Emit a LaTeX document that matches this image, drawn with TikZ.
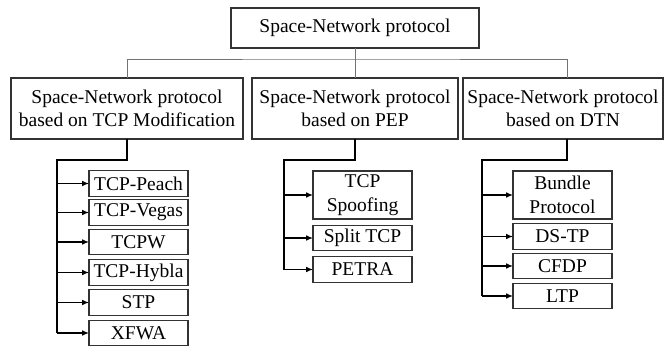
\documentclass[tikz,border=0pt]{standalone}
\usepackage{fontspec}
\setmainfont{Liberation Serif}
\usetikzlibrary{arrows.meta}

\begin{document}
\begin{tikzpicture}[x=0.5pt,y=-0.5pt]
        \tikzstyle{box} = [draw=black!80, line width=0.6pt, inner sep=0pt, outer sep=0pt, align=center, font=\fontsize{9.75}{11.75}\selectfont]
        \tikzstyle{leaf} = [box, minimum width=49.5pt, minimum height=12.75pt]
        \tikzstyle{tall} = [leaf, minimum height=24pt]
        \tikzstyle{e} = [draw=black!55, line width=0.5pt]
        \tikzstyle{br} = [draw=black, line width=0.6pt]
        \tikzstyle{arr} = [br, -{Latex[length=3.4pt,width=2.8pt]}]
        \useasboundingbox (0,0) rectangle (664,348);

        % top levels
        \node[box, minimum width=124pt, minimum height=20pt](root) at (355,28){Space-Network protocol};
        \node[box, minimum width=116pt, minimum height=30.5pt](tcp) at (127,108.5){Space-Network protocol\\based on TCP Modification};
        \node[box, minimum width=103pt, minimum height=30.5pt](pep) at (355,108.5){Space-Network protocol\\based on PEP};
        \node[box, minimum width=100pt, minimum height=30.5pt](dtn) at (563,108.5){Space-Network protocol\\based on DTN};

        % TCP modification
        \node[leaf](peach) at (138.5,183.5){TCP-Peach};
        \node[leaf](vegas) at (138.5,212.5){TCP-Vegas};
        \node[leaf](tcpw) at (138.5,242){TCPW};
        \node[leaf](hybla) at (138.5,272.5){TCP-Hybla};
        \node[leaf](stp) at (138.5,302.5){STP};
        \node[leaf](xfwa) at (138.5,333){XFWA};

        % PEP
        \node[tall](spoof) at (362.5,195){TCP\\Spoofing};
        \node[leaf](split) at (362.5,238){Split TCP};
        \node[leaf](petra) at (362.5,269.5){PETRA};

        % DTN
        \node[tall](bundle) at (562.5,195){Bundle\\Protocol};
        \node[leaf](dstp) at (562.5,236.5){DS-TP};
        \node[leaf](cfdp) at (562.5,266){CFDP};
        \node[leaf](ltp) at (562.5,296){LTP};

        \coordinate (bus) at (355,59);
        \draw[e](root.south) -- (bus);
        \draw[e](tcp.north) |- (bus) -| ([xshift=2pt]dtn.north);
        \draw[e](bus) -- (pep.north);

        \coordinate (tcpbus) at (57,160);
        \coordinate (pepbus) at (284,160);
        \coordinate (dtnbus) at (482,160);
        \draw[br](tcp.south) |- (tcpbus) -- (tcpbus |- xfwa.west);
        \draw[br](pep.south) |- (pepbus) -- (pepbus |- petra.west);
        \draw[br]([xshift=2pt]dtn.south) |- (dtnbus) -- (dtnbus |- ltp.west);
        \foreach \n in {peach,vegas,tcpw,hybla,stp,xfwa}
            \draw[arr](tcpbus |- \n.west) -- (\n.west);
        \foreach \n in {spoof,split,petra}
            \draw[arr](pepbus |- \n.west) -- (\n.west);
        \foreach \n in {bundle,dstp,cfdp,ltp}
            \draw[arr](dtnbus |- \n.west) -- (\n.west);

    \end{tikzpicture}
\end{document}
